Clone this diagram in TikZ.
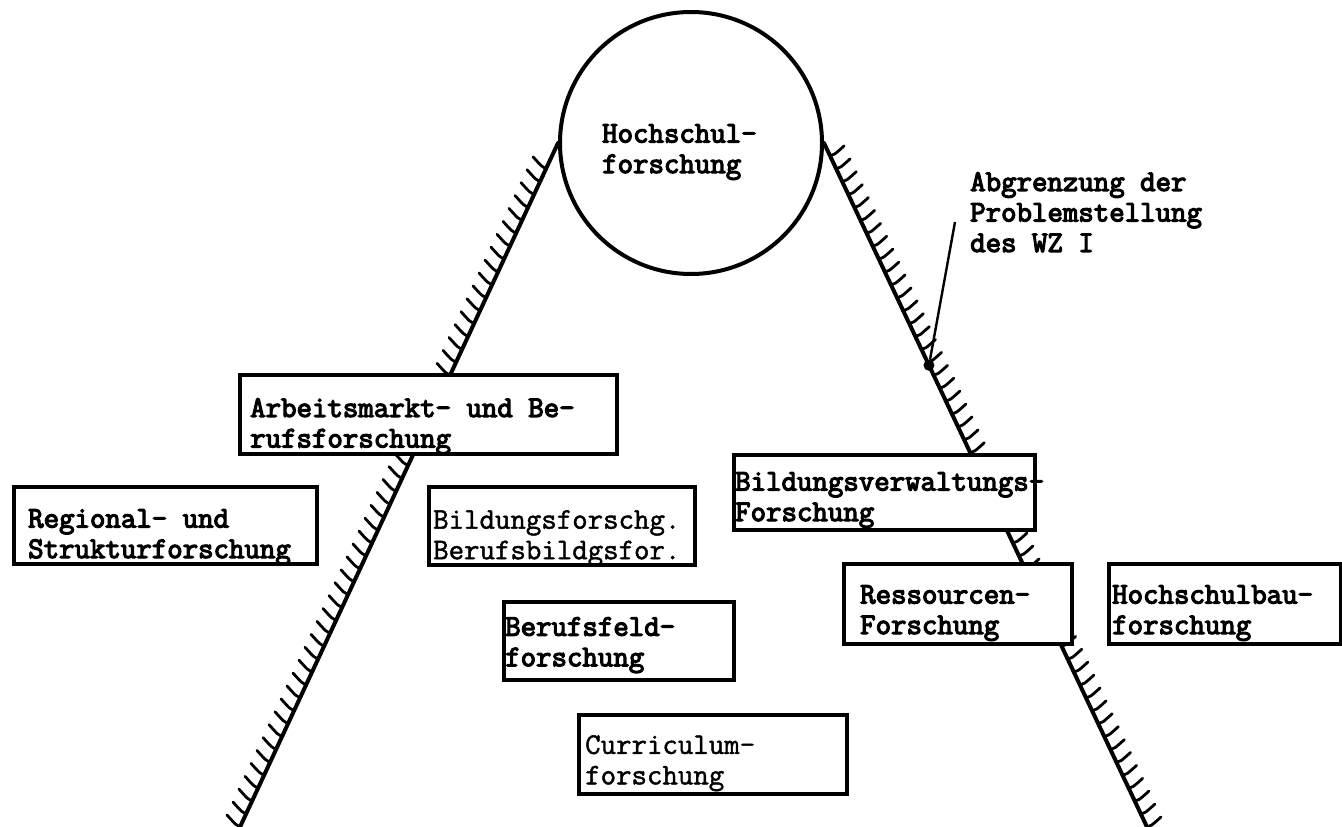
\documentclass[tikz,border=0pt]{standalone}
\usepackage{fontspec}
\newfontfamily\heavytt{Latin Modern Mono}[FakeBold=4]
\newfontfamily\mediumtt{Latin Modern Mono}[FakeBold=1.5]
\usetikzlibrary{calc}
\tikzset{
  edge/.style={line width=4pt, line cap=round},
  tick/.style={line width=2.8pt, line cap=round},
  box/.style={draw, line width=3.8pt, fill=white, rectangle, inner sep=0pt, anchor=north west},
  txt/.style={font=\heavytt\fontsize{30}{30.5}\selectfont, align=left, inner sep=0pt, anchor=north west},
  ltxt/.style={txt, font=\mediumtt\fontsize{30}{30.5}\selectfont},
}
\begin{document}
\begin{tikzpicture}[x=1pt,y=-1pt]
\useasboundingbox (0,0) rectangle (1342,827);
% central circle
\node[draw, circle, line width=4pt, fill=white, minimum size=262pt, inner sep=0pt] (hs) at (691,143) {};
\coordinate (L2) at (240,827);
\coordinate (R2) at (1147,827);
% boundary lines
\draw[edge] (hs.west) -- (L2);
\draw[edge] (hs.east) -- (R2);
% hatching
\foreach \i in {2,...,53} {
  \draw[tick] ($(hs.west)!\i/53!(L2)$) .. controls +(-4,-2) .. +(-13,-12);
}
\foreach \i in {1,...,53} {
  \draw[tick] ($(hs.east)!\i/53!(R2)$) .. controls +(4,-1) .. +(14,-10);
}
% annotation
\node[circle, fill, inner sep=0pt, minimum size=11pt] (dot) at ($(hs.east)!0.325!(R2)$) {};
\coordinate (lead) at (955,222);
\draw[line width=2.4pt] (lead) -- (dot);
\node[txt] (abg) at (970,172) {Abgrenzung der\\Problemstellung\\des WZ I};
% circle text
\node[txt] (hst) at (602,124) {Hochschul-\\forschung};
% boxes
\node[box, minimum width=377pt, minimum height=79pt] (arb) at (238,373) {};
\node[box, minimum width=303pt, minimum height=77pt] (reg) at (12,485) {};
\node[box, minimum width=266pt, minimum height=78pt] (bif) at (427,485) {};
\node[box, minimum width=301pt, minimum height=75pt] (bvw) at (732,453) {};
\node[box, minimum width=228pt, minimum height=80pt] (res) at (842,562) {};
\node[box, minimum width=232pt, minimum height=80pt] (hsb) at (1107,562) {};
\node[box, minimum width=230pt, minimum height=78pt] (bfe) at (502,600) {};
\node[box, minimum width=268pt, minimum height=79pt] (cur) at (577,713) {};
% box texts
\node[txt] (arbt) at (250,398) {Arbeitsmarkt- und Be-\\rufsforschung};
\node[txt] (regt) at (28,509) {Regional- und\\Strukturforschung};
\node[ltxt] (bift) at (433,510) {Bildungsforschg.\\Berufsbildgsfor.};
\node[txt] (bvwt) at (735,472) {Bildungsverwaltungs-\\Forschung};
\node[txt] (rest) at (860,585) {Ressourcen-\\Forschung};
\node[txt] (hsbt) at (1112,585) {Hochschulbau-\\forschung};
\node[txt] (bfet) at (505,617) {Berufsfeld-\\forschung};
\node[ltxt] (curt) at (585,735) {Curriculum-\\forschung};
\end{tikzpicture}
\end{document}
